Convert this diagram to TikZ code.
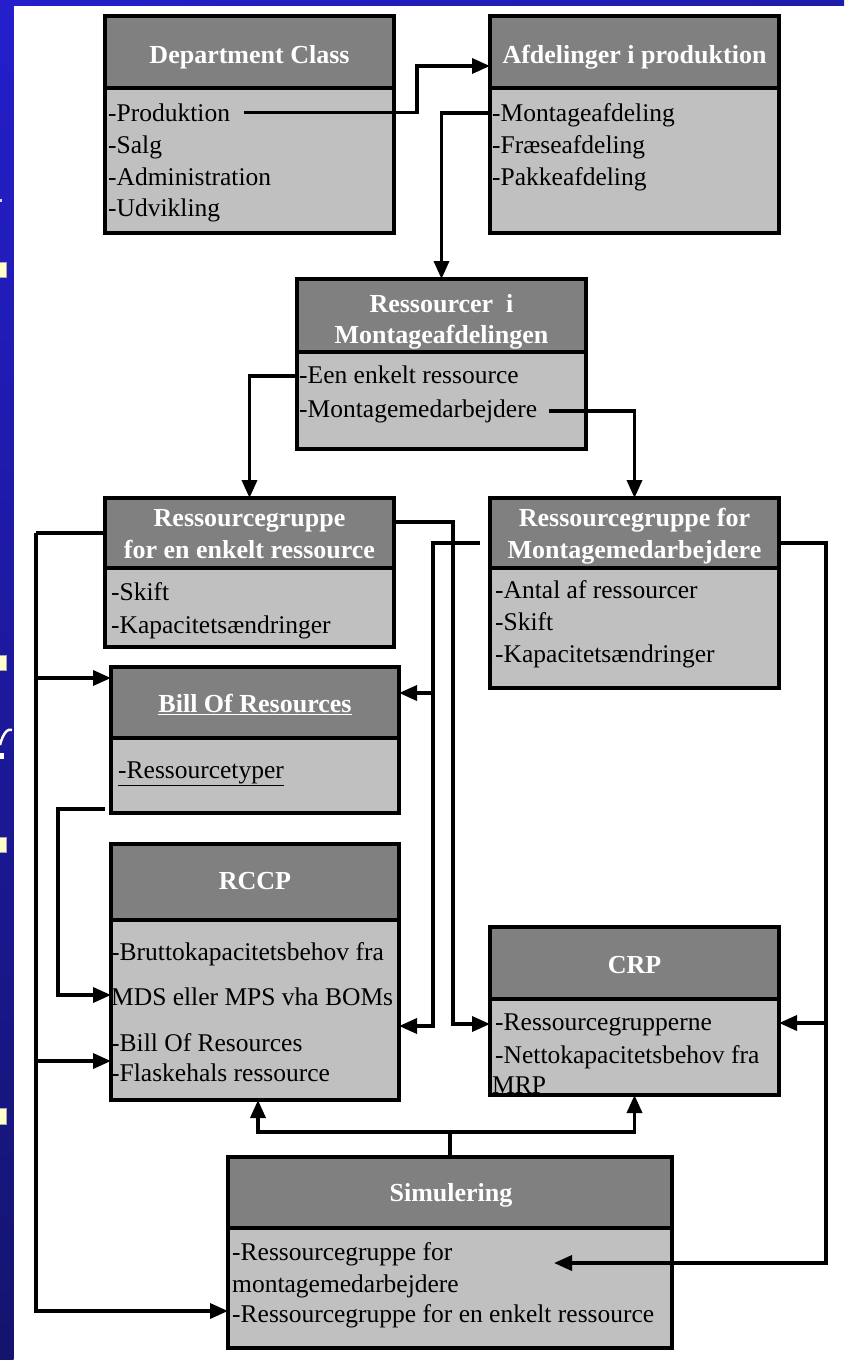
\documentclass[tikz,border=0pt]{standalone}
\usepackage{fontspec}
\setmainfont{Liberation Serif}
\usetikzlibrary{arrows.meta}

\definecolor{slideblue}{RGB}{36,30,204}
\definecolor{slidemid}{RGB}{30,28,170}
\definecolor{slidenavy}{RGB}{20,20,110}
\definecolor{hdrgray}{RGB}{128,128,128}
\definecolor{bodygray}{RGB}{192,192,192}
\definecolor{bulletyellow}{RGB}{255,255,204}

\begin{document}
\begin{tikzpicture}[x=1pt,y=-1pt,
  hdr/.style={draw=black, line width=3.8pt, fill=hdrgray, anchor=north west,
              inner sep=0pt, outer sep=0pt},
  bdy/.style={draw=black, line width=3.8pt, fill=bodygray, anchor=north west,
              inner sep=0pt, outer sep=0pt},
  htxt/.style={text=white, font=\fontsize{26}{31}\selectfont\bfseries,
               inner sep=0pt, anchor=base},
  btxt/.style={font=\fontsize{25.5}{31}\selectfont, inner sep=0pt, anchor=base west},
  link/.style={line width=3.5pt, line join=miter},
  arr/.style={link, -{Triangle[length=18pt,width=15pt]}},
  bullet/.style={fill=bulletyellow, draw=gray!70, line width=0.6pt},
]

% page and slide border
\fill[white] (0,0) rectangle (844,1360);
\useasboundingbox (0,0) rectangle (844,1360);
\shade[top color=slideblue, bottom color=slidenavy] (0,0) rectangle (13.5,1360);
\shade[left color=slideblue, right color=slidemid] (0,0) rectangle (844,5);
\fill[bullet] (-4,262) rectangle (6,277);
\fill[bullet] (-4,655) rectangle (6,670);
\fill[bullet] (-4,837) rectangle (6,852);
\fill[bullet] (-4,1108) rectangle (6,1124);
\fill[white!85!blue] (0,199) rectangle (1.5,201.5);
\draw[white, line width=2.5pt] (0,745) .. controls (3,733) and (8,728) .. (12,730);
\fill[white] (0,753) rectangle (4,759);

% boxes: header + body
\node[hdr, minimum width=289pt, minimum height=72pt]  (dcH)  at (105,16) {};
\node[bdy, minimum width=289pt, minimum height=145pt] (dcB)  at (dcH.south west) {};
\node[hdr, minimum width=289pt, minimum height=72pt]  (afH)  at (490,16) {};
\node[bdy, minimum width=289pt, minimum height=145pt] (afB)  at (afH.south west) {};
\node[hdr, minimum width=289pt, minimum height=73pt]  (rsH)  at (297,279) {};
\node[bdy, minimum width=289pt, minimum height=97pt]  (rsB)  at (rsH.south west) {};
\node[hdr, minimum width=289pt, minimum height=70pt]  (lgH)  at (105,498) {};
\node[bdy, minimum width=289pt, minimum height=79pt]  (lgB)  at (lgH.south west) {};
\node[hdr, minimum width=289pt, minimum height=70pt]  (rgH)  at (490,498) {};
\node[bdy, minimum width=289pt, minimum height=120pt] (rgB)  at (rgH.south west) {};
\node[hdr, minimum width=288pt, minimum height=71pt]  (borH) at (111,667) {};
\node[bdy, minimum width=288pt, minimum height=75pt]  (borB) at (borH.south west) {};
\node[hdr, minimum width=288pt, minimum height=76pt]  (rcH)  at (111,844) {};
\node[bdy, minimum width=288pt, minimum height=180pt] (rcB)  at (rcH.south west) {};
\node[hdr, minimum width=289pt, minimum height=72pt]  (crH)  at (490,927) {};
\node[bdy, minimum width=289pt, minimum height=96pt]  (crB)  at (crH.south west) {};
\node[hdr, minimum width=444pt, minimum height=71pt]  (siH)  at (228,1157) {};
\node[bdy, minimum width=444pt, minimum height=120pt] (siB)  at (siH.south west) {};

% header texts
\node[htxt] (dcT)  at (249.5,63)  {Department Class};
\node[htxt] (afT)  at (634.5,63)  {Afdelinger i produktion};
\node[htxt] (rsT1) at (441.5,312) {Ressourcer\ \ i};
\node[htxt] (rsT2) at (441.5,343) {Montageafdelingen};
\node[htxt] (lgT1) at (249.5,526) {Ressourcegruppe};
\node[htxt] (lgT2) at (249.5,558) {for en enkelt ressource};
\node[htxt] (rgT1) at (634.5,526) {Ressourcegruppe for};
\node[htxt] (rgT2) at (634.5,558) {Montagemedarbejdere};
\node[htxt] (borT) at (255,712)   {\underline{Bill Of Resources}};
\node[htxt] (rcT)  at (255,889)   {RCCP};
\node[htxt] (crT)  at (634.5,973) {CRP};
\node[htxt] (siT)  at (451,1201)  {Simulering};

% body texts
\node[btxt] (dcP) at (108,121) {-Produktion};
\node[btxt] (dcS) at (108,153) {-Salg};
\node[btxt] (dcA) at (108,185) {-Administration};
\node[btxt] (dcU) at (108,216) {-Udvikling};

\node[btxt] (afM) at (492,121) {-Montageafdeling};
\node[btxt] (afF) at (492,153) {-Fræseafdeling};
\node[btxt] (afP) at (492,185) {-Pakkeafdeling};

\node[btxt] (rsE) at (299,383) {-Een enkelt ressource};
\node[btxt] (rsM) at (299,417) {-Montagemedarbejdere};

\node[btxt] (lgS) at (111,600) {-Skift};
\node[btxt] (lgK) at (111,633) {-Kapacitetsændringer};

\node[btxt] (rgA) at (495,598) {-Antal af ressourcer};
\node[btxt] (rgS) at (495,630) {-Skift};
\node[btxt] (rgK) at (495,662) {-Kapacitetsændringer};

\node[btxt] (borR) at (118,778) {\underline{-Ressourcetyper}};

\node[btxt] (rcBr) at (111,960)  {-Bruttokapacitetsbehov fra};
\node[btxt] (rcMd) at (111,1005) {MDS eller MPS vha BOMs};
\node[btxt] (rcBo) at (111,1051) {-Bill Of Resources};
\node[btxt] (rcFl) at (111,1081) {-Flaskehals ressource};

\node[btxt] (crR)  at (495,1030) {-Ressourcegrupperne};
\node[btxt] (crN)  at (495,1063) {-Nettokapacitetsbehov fra};
\node[btxt] (crM)  at (492,1093) {MRP};

\node[btxt] (siR1) at (232,1260) {-Ressourcegruppe for};
\node[btxt] (siR2) at (232,1292) {montagemedarbejdere};
\node[btxt] (siR3) at (232,1322) {-Ressourcegruppe for en enkelt ressource};

% connector end points on the box edges
\coordinate (afIn)   at ([yshift=-14pt]afH.west);
\coordinate (afOut)  at ([yshift=-25pt]afB.north west);
\coordinate (rsOut)  at ([yshift=-24pt]rsB.north west);
\coordinate (borInL) at ([yshift=24.5pt]borH.west);
\coordinate (borInR) at ([yshift=9.5pt]borH.east);
\coordinate (borOut) at ([xshift=-6pt,yshift=4pt]borB.south west);
\coordinate (rcInL)  at ([yshift=-141pt]rcB.north west);
\coordinate (rcInB)  at ([yshift=-75pt]rcB.north west);
\coordinate (rcInR)  at ([yshift=-106pt]rcB.north east);
\coordinate (crInL)  at ([yshift=-25pt]crB.north west);
\coordinate (crInR)  at ([yshift=-24pt]crB.north east);
\coordinate (siInL)  at ([yshift=-83pt]siB.north west);
\coordinate (siInR)  at ([xshift=326pt,yshift=-35pt]siB.north west);

% Department Class -> Afdelinger -> Ressourcer
\draw[arr] ([xshift=14pt]dcP.east) -| ([xshift=-73pt]afIn) -- (afIn);
\draw[arr] (afOut) -| (rsH.north);

% Ressourcer -> the two resource groups
\draw[arr] (rsOut) -| (lgH.north);
\draw[arr] ([xshift=12pt]rsM.east) -| (rgH.north);

% single-resource group: left trunk
\draw[link] (lgH.west) -- ++(-69,0) coordinate (ltrunk);
\draw[arr] (ltrunk) |- (siInL);
\draw[arr] (ltrunk |- borInL) -- (borInL);
\draw[arr] (ltrunk |- rcInL) -- (rcInL);

% single-resource group -> CRP
\draw[arr] ([yshift=11pt]lgH.east) -| ([xshift=-37pt]crInL) -- (crInL);

% assembly-staff group -> RCCP and Bill Of Resources
\draw[arr] ([xshift=-10pt,yshift=-10pt]rgH.west) -| ([xshift=34pt]rcInR) coordinate (mtrunk) -- (rcInR);
\draw[arr] (mtrunk |- borInR) -- (borInR);

% assembly-staff group -> CRP and Simulering
\draw[arr] ([yshift=-10pt]rgH.east) -| ([xshift=272pt]siInR) coordinate (rtrunk) -- (siInR);
\draw[arr] (rtrunk |- crInR) -- (crInR);

% Bill Of Resources -> RCCP
\draw[arr] (borOut) -- ++(-47,0) |- (rcInB);

% Simulering -> RCCP and CRP
\draw[link] (siH.north) -- ++(0,-25) coordinate (sjoin);
\draw[arr] (sjoin) -| ([xshift=3pt]rcB.south);
\draw[arr] (sjoin) -| (crB.south);

\end{tikzpicture}
\end{document}
